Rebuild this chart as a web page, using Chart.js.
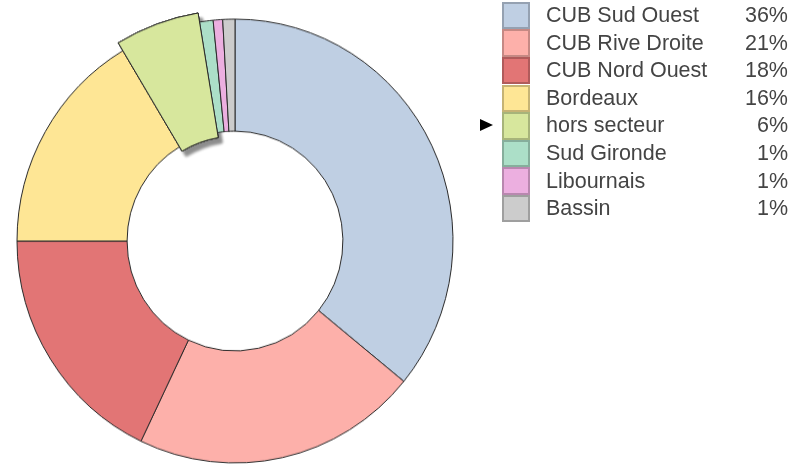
<!DOCTYPE html>
<html>
<head>
<meta charset="utf-8">
<script src="https://cdn.jsdelivr.net/npm/chart.js@4.4.0/dist/chart.umd.min.js"></script>
<style>
  html, body { margin: 0; padding: 0; background: #fff; }
  #wrap { position: relative; width: 794px; height: 468px; overflow: hidden; }
  #c { position: absolute; left: 0; top: 0; transform: scaleY(1.018); transform-origin: 0 241px; }
  #legend { position: absolute; left: 0; top: 0; width: 794px; height: 468px; pointer-events: none;
            font-family: "Liberation Sans", Arial, sans-serif; font-size: 21.5px; color: #444; }
  .box { position: absolute; left: 502px; width: 28px; box-sizing: border-box; border: 2px solid rgba(0,0,0,0.22); }
  .lab { position: absolute; left: 546px; white-space: nowrap; }
  .pct { position: absolute; right: 6px; white-space: nowrap; text-align: right; }
  .arrow { position: absolute; left: 480px; width: 0; height: 0;
           border-left: 13px solid #000; border-top: 6.5px solid transparent; border-bottom: 6.5px solid transparent; }
</style>
</head>
<body>
<div id="wrap">
  <canvas id="c" width="794" height="468"></canvas>
  <div id="legend"></div>
</div>
<script>
const categories = ["CUB Sud Ouest", "CUB Rive Droite", "CUB Nord Ouest", "Bordeaux", "hors secteur", "Sud Gironde", "Libournais", "Bassin"];
const values = [35.9, 21.2, 17.9, 16.4, 6.0, 1.0, 0.7, 0.9];
const colors = ["#bfcfe3", "#fdb0aa", "#e27575", "#fee695", "#d7e79d", "#acdfc8", "#ecafe0", "#cccccc"];
const highlighted = 4;

const total = values.reduce((a, b) => a + b, 0);
const pctLabels = values.map(v => Math.round(v / total * 100) + "%");

// selected slice: drawn a little wider (outward and inward) with a drop shadow
const selectPlugin = {
  id: 'selectedSlice',
  afterDatasetUpdate(chart) {
    const el = chart.getDatasetMeta(0).data[highlighted];
    if (!el) return;
    el.outerRadius += 9;
    el.innerRadius -= 5;
  },
  beforeDatasetsDraw(chart) {
    const el = chart.getDatasetMeta(0).data[highlighted];
    if (!el) return;
    const ctx = chart.ctx;
    ctx.save();
    ctx.shadowColor = 'rgba(0,0,0,0.45)';
    ctx.shadowBlur = 3;
    ctx.shadowOffsetX = 4;
    ctx.shadowOffsetY = 5;
    el.draw(ctx);
    ctx.restore();
  },
  afterDatasetsDraw(chart) {
    // keep the selected slice on top of its neighbours
    const el = chart.getDatasetMeta(0).data[highlighted];
    if (el) el.draw(chart.ctx);
  }
};

new Chart(document.getElementById('c'), {
  type: 'doughnut',
  data: {
    labels: categories,
    datasets: [{
      data: values,
      backgroundColor: colors,
      borderColor: '#2a2a2a',
      borderWidth: 1,
      hoverOffset: 0
    }]
  },
  options: {
    responsive: false,
    animation: false,
    radius: 218,
    cutout: '49.5%',
    layout: { padding: { left: 0, right: 324, top: 14, bottom: 0 } },
    plugins: { legend: { display: false }, tooltip: { enabled: false } },
    events: []
  },
  plugins: [selectPlugin]
});

// HTML legend built from the arrays
const legend = document.getElementById('legend');
const top0 = 1.7, rowH = 27.6;
categories.forEach((name, i) => {
  const y = top0 + i * rowH;
  const box = document.createElement('div');
  box.className = 'box';
  box.style.top = y + 'px';
  box.style.height = rowH + 'px';
  box.style.background = colors[i];
  legend.appendChild(box);
  const lab = document.createElement('div');
  lab.className = 'lab';
  lab.style.top = (y + rowH / 2 - 12.5) + 'px';
  lab.textContent = name;
  legend.appendChild(lab);
  const pct = document.createElement('div');
  pct.className = 'pct';
  pct.style.top = (y + rowH / 2 - 12.5) + 'px';
  pct.textContent = pctLabels[i];
  legend.appendChild(pct);
  if (i === highlighted) {
    const a = document.createElement('div');
    a.className = 'arrow';
    a.style.top = (y + rowH / 2 - 6.5) + 'px';
    legend.appendChild(a);
  }
});
</script>
</body>
</html>
